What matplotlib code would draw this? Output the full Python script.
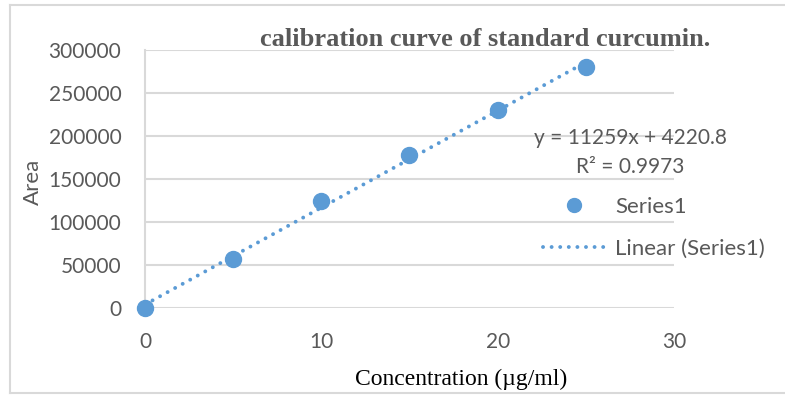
import numpy as np
import matplotlib
matplotlib.use("Agg")
import matplotlib.pyplot as plt
from matplotlib.lines import Line2D
from matplotlib.patches import Rectangle

# Data
concentration = [0, 5, 10, 15, 20, 25]
area = [0, 57000, 124500, 178000, 230000, 280000]
x_ticks = [0, 10, 20, 30]
y_ticks = [0, 50000, 100000, 150000, 200000, 250000, 300000]
title = "calibration curve of standard curcumin."
equation = "y = 11259x + 4220.8"
r2_text = "R² = 0.9973"

blue = "#5B9BD5"
gray_text = "#595959"
grid_c = "#D9D9D9"
sans = ["Lato", "DejaVu Sans"]
serif = ["Liberation Serif", "DejaVu Serif"]
dots = (0, (0.01, 2.2))

W, H = 785, 395
fig = plt.figure(figsize=(W / 100, H / 100), dpi=100)
ax = fig.add_axes([145 / W, 1 - 308 / H, (674 - 145) / W, (308 - 50) / H])

# Trendline from fit
slope, intercept = np.polyfit(concentration, area, 1)
xs = np.array([concentration[0], concentration[-1]])
ax.plot(xs, slope * xs + intercept, linestyle=dots, color=blue,
        linewidth=2.8, dash_capstyle="round", zorder=3)
ax.plot(concentration, area, "o", color=blue, markersize=11.5, zorder=4,
        clip_on=False)

ax.set_xlim(0, 30)
ax.set_ylim(0, 300000)
ax.set_xticks(x_ticks)
ax.set_yticks(y_ticks)
ax.yaxis.grid(True, color=grid_c, linewidth=1.5)
ax.set_axisbelow(True)
for s in ["top", "right", "bottom"]:
    ax.spines[s].set_visible(False)
ax.spines["left"].set_color(grid_c)
ax.spines["left"].set_linewidth(1.5)
ax.tick_params(length=0, labelsize=15, labelcolor=gray_text)
ax.tick_params(axis="y", pad=17)
ax.tick_params(axis="x", pad=17)
for lab in ax.get_xticklabels() + ax.get_yticklabels():
    lab.set_family(sans)

# Labels
fig.text(33 / W, 1 - 182 / H, "Area", rotation=90, ha="center", va="center",
         fontsize=16, color=gray_text, family=sans)
fig.text(461 / W, 1 - 379 / H, "Concentration (µg/ml)", ha="center",
         va="center", fontsize=17, color="black", family=serif)
fig.text(485 / W, 1 - 40 / H, title, ha="center", va="center", fontsize=19,
         fontweight="bold", color=gray_text, family=serif)

# Equation
fig.text(630 / W, 1 - 138 / H, equation, ha="center", va="center",
         fontsize=15, color=gray_text, family=sans)
fig.text(630 / W, 1 - 167 / H, r2_text, ha="center", va="center",
         fontsize=15, color=gray_text, family=sans)

# Legend
handles = [Line2D([], [], marker="o", linestyle="none", color=blue,
                  markersize=10),
           Line2D([], [], linestyle=dots, color=blue, linewidth=2.8,
                  dash_capstyle="round")]
leg = fig.legend(handles, ["Series1", "Linear (Series1)"], loc="upper left",
                 bbox_to_anchor=(523 / W, 1 - 177 / H), frameon=False,
                 handlelength=2.8, handletextpad=0.45, labelspacing=1.0,
                 prop={"family": sans, "size": 16})
for t in leg.get_texts():
    t.set_color(gray_text)

# Figure border (top, left, bottom) with clipping of overflow below it
bc = "#D9D9D9"
fig.add_artist(Rectangle((0, 0), 1, 1 - 393 / H, transform=fig.transFigure,
                         facecolor="white", edgecolor="none", zorder=10))
for xd, yd in [([10 / W, 1.0], [1 - 5 / H, 1 - 5 / H]),
               ([10 / W, 10 / W], [1 - 5 / H, 1 - 393 / H]),
               ([10 / W, 1.0], [1 - 393 / H, 1 - 393 / H])]:
    fig.add_artist(Line2D(xd, yd, color=bc, lw=1.5, zorder=11,
                          transform=fig.transFigure))

fig.savefig("out.png", dpi=100)
